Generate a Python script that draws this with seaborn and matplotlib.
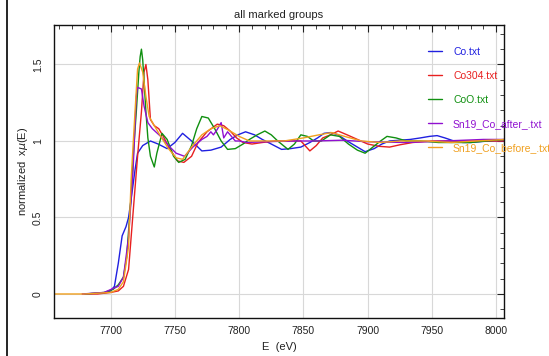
import numpy as np
import pandas as pd
import matplotlib
matplotlib.use("Agg")
import matplotlib.pyplot as plt
import seaborn as sns
from matplotlib.ticker import MultipleLocator
from matplotlib.lines import Line2D

# ---- data ----
series_names = ["Co.txt", "Co304.txt", "CoO.txt", "Sn19_Co_after_.txt", "Sn19_Co_before_.txt"]
series_colors = ["#2020e0", "#e82020", "#109010", "#9010d0", "#f0a020"]

co_E = [7680, 7690, 7697, 7700, 7703, 7706, 7709, 7712, 7714, 7716, 7719, 7721, 7725, 7731, 7737,
        7744, 7750, 7756, 7763, 7771, 7778, 7786, 7793, 7799, 7805, 7812, 7818, 7825, 7833, 7840,
        7848, 7855, 7861, 7866, 7871, 7877, 7884, 7890, 7898, 7905, 7911, 7917, 7925, 7933, 7941,
        7948, 7954, 7960, 7967, 7974, 7980, 7987, 7994, 8000, 8007]
co_mu = [0, 0.005, 0.01, 0.02, 0.05, 0.2, 0.38, 0.44, 0.5, 0.62, 0.81, 0.92, 0.97, 1.0, 0.98,
         0.95, 0.99, 1.05, 1.0, 0.935, 0.94, 0.96, 1.01, 1.04, 1.06, 1.04, 1.01, 0.98, 0.945, 0.95,
         0.96, 0.99, 1.02, 1.05, 1.055, 1.04, 1.0, 0.97, 0.93, 0.95, 0.98, 1.0, 1.005, 1.01, 1.02,
         1.03, 1.035, 1.02, 1.0, 0.99, 0.99, 0.995, 1.0, 1.0, 1.0]

co3o4_E = [7678, 7690, 7700, 7706, 7710, 7714, 7717.5, 7721, 7724, 7726, 7727.5, 7729, 7731, 7734,
           7737.5, 7741, 7746, 7752, 7757, 7763, 7768, 7775, 7783, 7788, 7793, 7798, 7803, 7810,
           7818, 7828, 7838, 7848, 7855, 7860, 7865, 7871, 7877, 7884, 7892, 7900, 7909, 7917,
           7925, 7935, 7950, 7965, 7980, 7995, 8007]
co3o4_mu = [0, 0.0, 0.01, 0.02, 0.05, 0.16, 0.53, 0.9, 1.19, 1.45, 1.5, 1.40, 1.14, 1.1,
            1.08, 1.03, 0.95, 0.87, 0.86, 0.9, 0.99, 1.06, 1.11, 1.1, 1.065, 1.02, 0.99, 0.98,
            0.99, 1.0, 1.0, 1.0, 0.935, 0.97, 1.02, 1.04, 1.065, 1.04, 1.01, 0.98, 0.965, 0.96,
            0.975, 0.99, 1.0, 1.0, 1.0, 1.0, 1.0]

coo_E = [7680, 7695, 7702, 7706, 7710, 7712.5, 7716, 7718, 7720, 7722, 7723, 7724, 7725, 7726,
         7727.5, 7729, 7731, 7734, 7736, 7740, 7744, 7749, 7753, 7758, 7763, 7767, 7771, 7776,
         7781, 7786, 7791, 7797, 7803, 7808, 7814, 7820, 7825, 7830, 7838, 7843, 7848, 7853,
         7858, 7864, 7871, 7878, 7885, 7892, 7898, 7904, 7910, 7915, 7922, 7930, 7941, 7955,
         7968, 7980, 7992, 8007]
coo_mu = [0, 0.01, 0.03, 0.06, 0.11, 0.24, 0.64, 0.95, 1.19, 1.45, 1.55, 1.6, 1.53, 1.4,
          1.19, 1.02, 0.9, 0.83, 0.92, 1.05, 1.01, 0.9, 0.86, 0.88, 0.97, 1.08, 1.16, 1.15,
          1.08, 1.0, 0.945, 0.95, 0.98, 1.01, 1.04, 1.065, 1.04, 1.0, 0.945, 0.98, 1.04, 1.03,
          1.0, 1.0, 1.04, 1.03, 0.98, 0.94, 0.92, 0.96, 1.0, 1.03, 1.02, 1.0, 1.0, 0.99,
          0.99, 0.99, 1.0, 1.01]

after_E = [7678, 7695, 7703, 7706, 7710, 7714, 7717.5, 7720, 7721, 7724, 7726, 7729, 7732.5,
           7739, 7745, 7751, 7757.5, 7764, 7771, 7775, 7778, 7780, 7783, 7786, 7788, 7791, 7794,
           7797, 7800, 7806, 7820, 7840, 7860, 7880, 7900, 7930, 7960, 7990, 8007]
after_mu = [0, 0.01, 0.04, 0.05, 0.11, 0.37, 0.81, 1.29, 1.35, 1.34, 1.23, 1.12, 1.08,
            1.03, 0.97, 0.92, 0.9, 0.96, 1.01, 1.03, 1.06, 1.04, 1.076, 1.12, 1.02, 1.06, 1.03,
            1.0, 1.0, 0.99, 0.995, 1.0, 1.0, 1.005, 0.995, 0.99, 1.0, 1.01, 1.01]

before_E = [7655, 7680, 7700, 7706, 7710, 7714, 7716, 7719, 7721, 7722.5, 7725, 7727.5, 7730,
            7734, 7739, 7745, 7751, 7756, 7763, 7771, 7778, 7785, 7792, 7800, 7808, 7820, 7835,
            7850, 7862, 7872, 7882, 7895, 7910, 7925, 7945, 7965, 7985, 8007]
before_mu = [0, 0, 0.01, 0.03, 0.08, 0.31, 0.75, 1.19, 1.47, 1.51, 1.45, 1.29, 1.16,
             1.1, 1.03, 0.95, 0.89, 0.88, 0.96, 1.04, 1.08, 1.1, 1.07, 1.03, 1.0, 1.0, 1.0,
             1.02, 1.04, 1.055, 1.03, 1.0, 0.99, 1.0, 1.0, 0.99, 1.0, 1.01]

x_ticks = [7700, 7750, 7800, 7850, 7900, 7950, 8000]
y_ticks = [0, 0.5, 1, 1.5]
y_tick_labels = ["0", "0.5", "1", "1.5"]

frames = []
for name, E, mu in zip(series_names,
                       [co_E, co3o4_E, coo_E, after_E, before_E],
                       [co_mu, co3o4_mu, coo_mu, after_mu, before_mu]):
    frames.append(pd.DataFrame({"E": E, "mu": mu, "group": name}))
df = pd.concat(frames, ignore_index=True)

# ---- plot ----
sns.set_theme(style="white")
plt.rcParams['font.family'] = ['Liberation Sans', 'DejaVu Sans']

fig = plt.figure(figsize=(5.49, 3.56), dpi=100)
ax = fig.add_axes([54/549, 1 - 318/356, 450/549, 293/356])

palette = dict(zip(series_names, series_colors))
sns.lineplot(data=df, x="E", y="mu", hue="group", hue_order=series_names,
             palette=palette, estimator=None, sort=False, linewidth=1.0,
             legend=False, ax=ax)

ax.set_xlim(7656, 8006)
ax.set_ylim(-0.157, 1.758)
ax.set_xticks(x_ticks)
ax.set_xticklabels([str(t) for t in x_ticks])
ax.set_yticks(y_ticks)
ax.set_yticklabels(y_tick_labels, rotation=90, va="center")
ax.xaxis.set_minor_locator(MultipleLocator(10))
ax.yaxis.set_minor_locator(MultipleLocator(0.1))
ax.tick_params(axis="both", which="both", direction="in", top=True, right=True,
               labelsize=7.5, colors="#222222")
ax.tick_params(which="major", length=5, width=0.8)
ax.tick_params(which="minor", length=3, width=0.6)
ax.tick_params(axis="x", pad=6)
ax.tick_params(axis="y", pad=8)
ax.grid(True, which="major", color="#d8d8d8", linewidth=0.8)
ax.set_axisbelow(True)
for s in ax.spines.values():
    s.set_color("#111111")
    s.set_linewidth(1.0)

ax.set_xlabel("E  (eV)", fontsize=8, labelpad=4, color="#222222")
ax.set_ylabel("normalized  x$\\mu$(E)", fontsize=8, labelpad=2, color="#222222")
ax.set_title("all marked groups", fontsize=8, pad=5, color="#222222")

handles = [Line2D([0], [0], color=c, lw=1.0) for c in series_colors]
leg = ax.legend(handles, series_names, loc="upper left", bbox_to_anchor=(0.822, 0.94),
                frameon=False, fontsize=7.5, handlelength=1.3, handletextpad=1.1,
                labelspacing=1.35, borderaxespad=0)
for txt, c in zip(leg.get_texts(), series_colors):
    txt.set_color(c)

fig.add_artist(Line2D([7/549, 7/549], [0, 1], color="black", lw=1.2,
                      transform=fig.transFigure))

fig.savefig("out.png", dpi=100)
